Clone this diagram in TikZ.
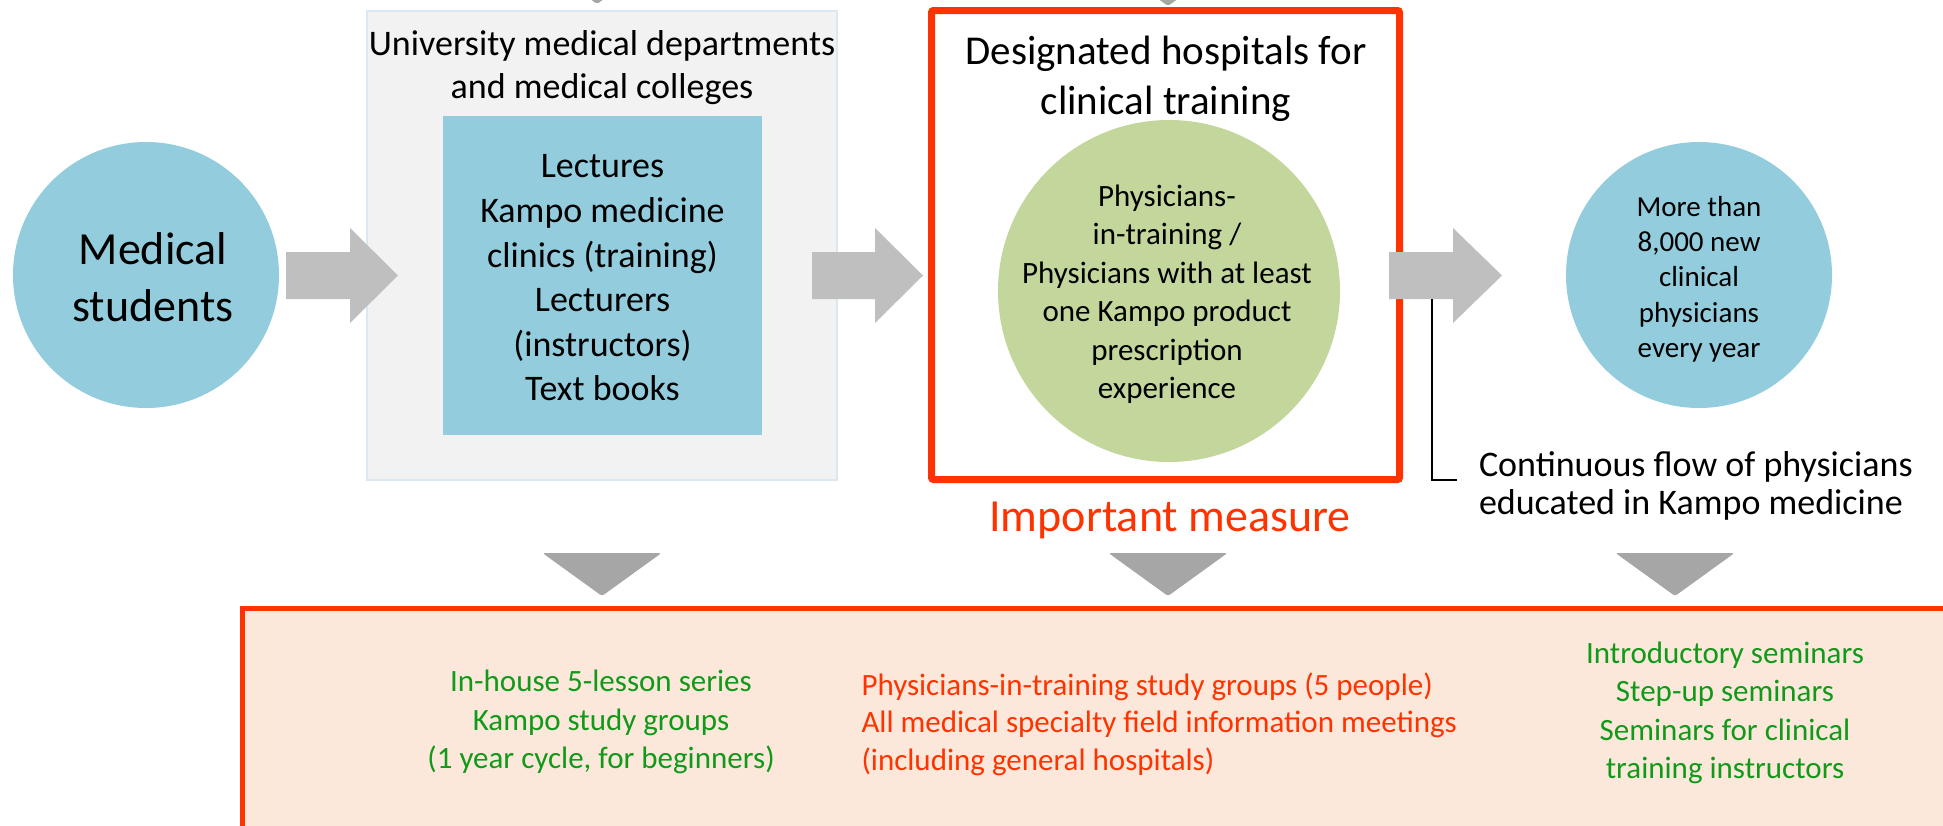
\documentclass[tikz,border=0pt]{standalone}
\usepackage{fontspec}
\setmainfont{Carlito}
\definecolor{circblue}{HTML}{93CDDD}
\definecolor{leafgreen}{HTML}{C3D69B}
\definecolor{alertred}{HTML}{FF3300}
\definecolor{peach}{HTML}{FCE8DA}
\definecolor{boxgray}{HTML}{F2F2F2}
\definecolor{boxedge}{HTML}{DAE9F1}
\definecolor{arrowgray}{HTML}{BFBFBF}
\definecolor{trigray}{HTML}{A6A6A6}
\definecolor{textgreen}{HTML}{11991A}
\newcommand\fs[2]{\fontsize{#1}{#2}\selectfont}
\newcommand\blkarrow[3]{%
  \fill[arrowgray] (#1,252) -- (#2,252) -- (#2,228) -- (#3,275.5) -- (#2,323) -- (#2,299) -- (#1,299) -- cycle;}
\newcommand\downtri[2]{%
  \fill[trigray, rounded corners=2.5] (#1-59.5,#2-43) -- (#1+59.5,#2-43) -- (#1,#2) -- cycle;}
\begin{document}
\begin{tikzpicture}[x=1pt,y=-1pt,
  base/.style={inner sep=0pt, outer sep=0pt},
  txt/.style={base, align=center, text=black},
  circ/.style={base, circle, fill=circblue},
  gtxt/.style={base, align=center, text=textgreen, font=\fs{31}{38.3}},
]
\useasboundingbox (0,0) rectangle (1943,825);
\clip (0,0) rectangle (1943,825);
\fill[white] (0,0) rectangle (1943,825);

% triangles cut at the top
\downtri{597}{4}
\downtri{1168}{6}

% left circle
\node[circ, minimum size=266pt] (ms) at (146,275) {};
\node[txt, font=\fs{46}{57}] (mst) at (153,277) {Medical\\students};

% university box
\node[base, rectangle, draw=boxedge, line width=1.5pt, fill=boxgray,
      minimum width=470pt, minimum height=469pt] (univ) at (602,245.5) {};
\node[txt, font=\fs{36}{43}] (univt) at (602,68) {University medical departments\\and medical colleges};
\node[base, rectangle, fill=circblue, minimum width=319pt, minimum height=319pt] (lect) at (602.5,275.5) {};
\node[txt, font=\fs{36}{44.6}] (lectt) at (602.5,278) {Lectures\\Kampo medicine\\clinics (training)\\Lecturers\\(instructors)\\Text books};

% designated hospitals box
\node[base, rectangle, draw=alertred, line width=7pt, fill=white, rounded corners=2pt,
      minimum width=468pt, minimum height=469pt] (hosp) at (1165.5,245) {};
\node[txt, font=\fs{41}{50}] (hospt) at (1166,79) {Designated hospitals for\\clinical training};
\node[base, circle, fill=leafgreen, minimum size=342pt] (phys) at (1169,291) {};
\node[txt, font=\fs{31}{38.5}] (physt) at (1167,294) {Physicians-\\in-training /\\Physicians with at least\\one Kampo product\\prescription\\experience};
\node[base, text=alertred, font=\fs{46}{55}] (imp) at (1170,520) {Important measure};

% right circle
\node[circ, minimum size=266pt] (new) at (1699,275) {};
\node[txt, font=\fs{29}{35.3}] (newt) at (1699,279) {More than\\8,000 new\\clinical\\physicians\\every year};

% block arrows
\blkarrow{286}{350}{398}
\blkarrow{812}{875}{923}
\blkarrow{1389}{1453}{1502}

% bracket and caption
\coordinate (brtop) at (1432,299);
\coordinate (brend) at (1457,480);
\draw[black, line width=1.6pt] (brtop) |- (brend);
\node[base, anchor=west, align=left, font=\fs{36}{38}] (flow) at (1479,486) {Continuous flow of physicians\\educated in Kampo medicine};

% down triangles
\downtri{602}{596}
\downtri{1168}{596}
\downtri{1675}{596}

% bottom box
\draw[alertred, line width=5.5pt, fill=peach] (242.5,608.5) rectangle (2010,900);
\node[gtxt] (bl) at (601,722) {In-house 5-lesson series\\Kampo study groups\\(1 year cycle, for beginners)};
\node[base, anchor=west, align=left, text=alertred, font=\fs{31}{37.5}] (bm) at (861.5,724) {Physicians-in-training study groups (5 people)\\All medical specialty field information meetings\\(including general hospitals)};
\node[gtxt] (br) at (1725,713) {Introductory seminars\\Step-up seminars\\Seminars for clinical\\training instructors};
\end{tikzpicture}
\end{document}
